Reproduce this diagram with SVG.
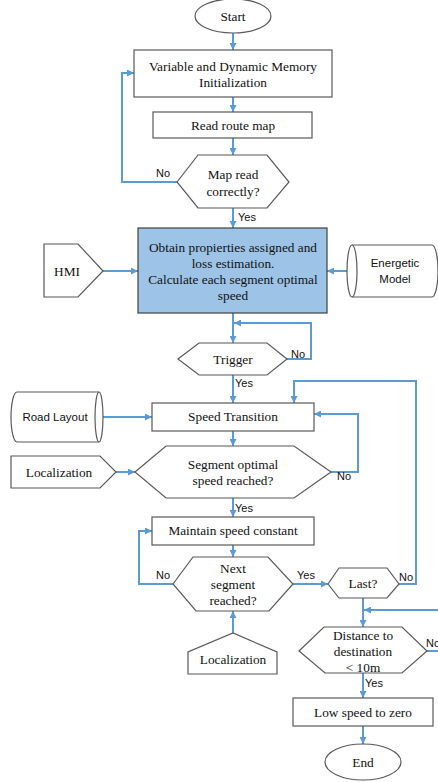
<svg xmlns="http://www.w3.org/2000/svg" width="438" height="782" viewBox="0 0 438 782">
<defs>
<marker id="arr" markerUnits="userSpaceOnUse" markerWidth="7" markerHeight="7" viewBox="0 0 10 10" refX="10" refY="5" orient="auto">
<path d="M0,0 L10,5 L0,10 z" fill="#5b9bd5"/>
</marker>
</defs>
<style>
.s{fill:#fff;stroke:#595959;stroke-width:1.2}
.b{fill:#9dc3e6;stroke:#404040;stroke-width:1.2}
.t{font-family:"Liberation Serif","Times New Roman",serif;font-size:13.3px;fill:#111;text-anchor:middle}
.ts{font-family:"Liberation Sans",Arial,sans-serif;font-size:11.5px;fill:#111;text-anchor:middle}
.l{font-family:"Liberation Sans",Arial,sans-serif;font-size:11px;fill:#111}
.c{fill:none;stroke:#5b9bd5;stroke-width:2;marker-end:url(#arr)}
.cn{fill:none;stroke:#5b9bd5;stroke-width:2}
</style>
<rect width="438" height="782" fill="#fff"/>
<g id="connectors">
<path class="c" d="M233,33 V50"/>
<path class="c" d="M233,97 V112"/>
<path class="c" d="M233,138 V155"/>
<path class="c" d="M177,182 H122 V73 H134"/>
<path class="c" d="M233,208 V228"/>
<path class="c" d="M103,271 H138"/>
<path class="c" d="M347,271 H327"/>
<path class="c" d="M233,313 V343"/>
<path class="c" d="M287,359 H311 V323 H234"/>
<path class="c" d="M233,375 V403"/>
<path class="c" d="M102,417 H152"/>
<path class="c" d="M233,431 V446"/>
<path class="c" d="M116,472 H135"/>
<path class="c" d="M331,472 H358 V414 H314"/>
<path class="c" d="M233,498 V517"/>
<path class="c" d="M233,545 V557"/>
<path class="c" d="M173,584 H139 V531 H152"/>
<path class="c" d="M293,584 H328"/>
<path class="c" d="M399,584 H416 V381 H294 V403"/>
<path class="c" d="M363,598 V627"/>
<path class="cn" d="M427,651 H440"/>
<path class="c" d="M440,610 H364"/>
<path class="c" d="M363,673 V698"/>
<path class="c" d="M363,726 V744"/>
<path class="c" d="M233,633 V611"/>
<text class="l" x="156" y="177">No</text>
<text class="l" x="238" y="221">Yes</text>
<text class="l" x="291" y="358">No</text>
<text class="l" x="235" y="387">Yes</text>
<text class="l" x="337" y="480">No</text>
<text class="l" x="235" y="512">Yes</text>
<text class="l" x="156" y="579">No</text>
<text class="l" x="297" y="579">Yes</text>
<text class="l" x="399" y="581">No</text>
<text class="l" x="426" y="647">No</text>
<text class="l" x="365" y="687">Yes</text>
</g>
<g id="start">
<ellipse class="s" cx="233" cy="16" rx="38" ry="17"/>
<text class="t" x="233" y="21">Start</text>
</g>
<g id="init">
<rect class="s" x="134" y="50" width="198" height="47"/>
<text class="t" x="233" y="71">Variable and Dynamic Memory</text>
<text class="t" x="233" y="87">Initialization</text>
</g>
<g id="readmap">
<rect class="s" x="153" y="112" width="159" height="26"/>
<text class="t" x="233" y="130">Read route map</text>
</g>
<g id="mapread">
<polygon class="s" points="177,182 198,155 267,155 289,182 267,208 198,208"/>
<text class="t" x="233" y="179">Map read</text>
<text class="t" x="233" y="196">correctly?</text>
</g>
<g id="obtain">
<rect class="b" x="138" y="228" width="189" height="85"/>
<text class="t" x="233" y="252">Obtain propierties assigned and</text>
<text class="t" x="233" y="268">loss estimation.</text>
<text class="t" x="233" y="284">Calculate each segment optimal</text>
<text class="t" x="233" y="300">speed</text>
</g>
<g id="hmi">
<polygon class="s" points="44,244 78,244 103,271 78,297 44,297"/>
<text class="t" x="67" y="276">HMI</text>
</g>
<g id="energetic">
<path class="s" d="M352,245 H432 A6,26 0 0 1 432,297 H352 A5,26 0 0 1 352,245 Z"/>
<path class="s" d="M352,245 A5,26 0 0 1 352,297" fill="none"/>
<text class="ts" x="395" y="267">Energetic</text>
<text class="ts" x="395" y="283">Model</text>
</g>
<g id="trigger">
<polygon class="s" points="178,359 199,343 267,343 287,359 267,375 199,375"/>
<text class="t" x="233" y="364">Trigger</text>
</g>
<g id="roadlayout">
<path class="s" d="M17,392 H99 A4,25 0 0 1 99,442 H17 A6,25 0 0 1 17,392 Z"/>
<path class="s" d="M99,392 A4,25 0 0 0 99,442" fill="none"/>
<text class="ts" x="55" y="421">Road Layout</text>
</g>
<g id="speedtransition">
<rect class="s" x="152" y="403" width="162" height="28"/>
<text class="t" x="233" y="421">Speed Transition</text>
</g>
<g id="localization1">
<polygon class="s" points="11,456 100,456 116,472 100,488 11,488"/>
<text class="t" x="59" y="477">Localization</text>
</g>
<g id="segreached">
<polygon class="s" points="135,472 166,446 294,446 331,472 294,498 166,498"/>
<text class="t" x="233" y="469">Segment optimal</text>
<text class="t" x="233" y="485">speed reached?</text>
</g>
<g id="maintain">
<rect class="s" x="152" y="517" width="162" height="28"/>
<text class="t" x="233" y="535">Maintain speed constant</text>
</g>
<g id="nextseg">
<polygon class="s" points="173,584 193,557 268,557 293,584 269,611 196,611"/>
<text class="t" x="233" y="573">Next</text>
<text class="t" x="233" y="589">segment</text>
<text class="t" x="233" y="605">reached?</text>
</g>
<g id="localization2">
<polygon class="s" points="188,674 188,652 233,633 277,652 277,674"/>
<text class="t" x="233" y="664">Localization</text>
</g>
<g id="last">
<polygon class="s" points="328,584 339,568 387,568 399,584 387,598 339,598"/>
<text class="t" x="363" y="588">Last?</text>
</g>
<g id="distance">
<polygon class="s" points="299,651 324,627 402,627 427,651 402,673 325,673"/>
<text class="t" x="363" y="640">Distance to</text>
<text class="t" x="363" y="656">destination</text>
<text class="t" x="363" y="672">&lt; 10m</text>
</g>
<g id="lowspeed">
<rect class="s" x="293" y="698" width="140" height="28"/>
<text class="t" x="363" y="717">Low speed to zero</text>
</g>
<g id="end">
<ellipse class="s" cx="363" cy="762" rx="38" ry="18"/>
<text class="t" x="363" y="767">End</text>
</g>
</svg>
